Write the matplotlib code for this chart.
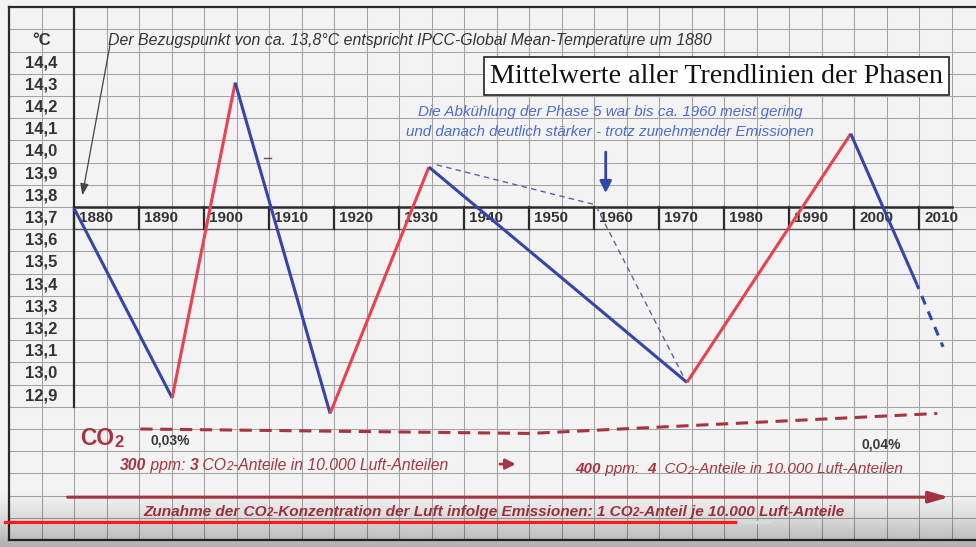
import matplotlib
matplotlib.use("Agg")
import matplotlib.pyplot as plt
import numpy as np
from matplotlib.lines import Line2D

# Mean trend lines of the temperature phases
temp_years = [1880.0, 1895.1, 1904.8, 1919.4, 1934.6, 1974.3, 1999.5, 2009.7]
temp_values = [13.745, 12.89, 14.31, 12.82, 13.93, 12.96, 14.08, 13.40]
# dashed continuation after ~2010
proj_years = [2009.7, 2013.7]
proj_values = [13.40, 13.12]
# thin dashed path of phase 5: mild cooling until 1960, stronger afterwards
phase5_years = [1935.8, 1960.2, 1973.7]
phase5_values = [13.94, 13.76, 12.99]
# CO2 trend drawn below the temperature curve
co2_years = [1890.2, 1950.2, 2012.8]
co2_values = [12.75, 12.73, 12.82]

decades = [1880, 1890, 1900, 1910, 1920, 1930, 1940, 1950, 1960, 1970, 1980, 1990, 2000, 2010]
temp_ticks = [14.4, 14.3, 14.2, 14.1, 14.0, 13.9, 13.8, 13.7, 13.6, 13.5, 13.4, 13.3, 13.2, 13.1, 13.0, 12.9]
temp_labels = ["14,4", "14,3", "14,2", "14,1", "14,0", "13,9", "13,8", "13,7",
               "13,6", "13,5", "13,4", "13,3", "13,2", "13,1", "13,0", "12,9"]

BLUE = "#3447a8"
RED = "#e8414f"
DARK_RED = "#a8343f"
TEXT_BLUE = "#4a6cd2"
FRAME = "#2b2b2b"
GRID = "#a2a2a2"
LABEL = "#333333"
SANS = "Liberation Sans"


def chain_text(ax, x, y, parts, color, size, style="italic"):
    """Write pieces of text one after another; parts = (text, bold, scale)."""
    s, bold, scale = parts[0]
    prev = ax.text(x, y, s, ha="left", va="bottom", color=color, family=SANS,
                   style=style, fontweight="bold" if bold else "normal",
                   fontsize=size * scale, zorder=6)
    for s, bold, scale in parts[1:]:
        prev = ax.annotate(s, xy=(1, 0), xycoords=prev, ha="left", va="bottom",
                           color=color, family=SANS, style=style,
                           fontweight="bold" if bold else "normal",
                           fontsize=size * scale, zorder=6)
    return prev


fig = plt.figure(figsize=(9.76, 5.47), dpi=100, facecolor="#f3f3f3")
ax = fig.add_axes([9 / 976, 7 / 547, 967 / 976, 533 / 547])
ax.set_xlim(1870, 1870 + 967 / 6.5)
ax.set_ylim(12.25, 12.25 + 533 / 222)
ax.set_facecolor("#f3f3f3")
ax.set_xticks([])
ax.set_yticks([])
for side in ["top", "left", "bottom"]:
    ax.spines[side].set_color(FRAME)
    ax.spines[side].set_linewidth(1.6)
ax.spines["right"].set_visible(False)

# paper grid: cells of 5 years x 0.1 degC, values sit in the middle of the rows
for gx in np.arange(1875, 2020, 5):
    ax.axvline(gx, color=GRID, lw=0.75, zorder=0)
for gy in np.arange(12.35, 14.6, 0.1):
    ax.axhline(gy, color=GRID, lw=0.75, zorder=0)

# heavy lines of the table
ax.plot([1880, 1880], [12.85, 14.7], color=FRAME, lw=1.6, zorder=1)
ax.plot([1880, 2015], [13.75, 13.75], color=FRAME, lw=1.8, zorder=1)
ax.plot([1880, 2015], [13.65, 13.65], color="#555555", lw=1.0, zorder=1)
for d in decades:
    ax.plot([d, d], [13.65, 13.75], color=FRAME, lw=1.6, zorder=1)
    ax.text(d + 0.8, 13.70, str(d), ha="left", va="center", fontsize=11,
            fontweight="bold", color=LABEL, family=SANS, zorder=2)

for v, s in zip(temp_ticks, temp_labels):
    ax.text(1875, v, s, ha="center", va="center", fontsize=12,
            fontweight="bold", color=LABEL, family=SANS)
ax.text(1875, 14.5, "°C", ha="center", va="center", fontsize=12,
        fontweight="bold", color=LABEL, family=SANS)

# temperature phases: red when warming, blue when cooling
for i in range(len(temp_years) - 1):
    seg_color = BLUE if temp_values[i + 1] < temp_values[i] else RED
    ax.plot(temp_years[i:i + 2], temp_values[i:i + 2], color=seg_color,
            lw=2.2, solid_capstyle="butt", zorder=4)
ax.plot(proj_years, proj_values, color=BLUE, lw=2.2, ls=(1.5, (3, 2.5)), zorder=4)
ax.plot(phase5_years, phase5_values, color="#5866a0", lw=1.0,
        ls=(0, (4, 3)), zorder=3)
ax.plot([1909.3, 1910.3], [13.97, 13.97], color="#555555", lw=1.0, zorder=3)

# reference point note
ax.annotate("", xy=(1881.2, 13.79), xytext=(1885.6, 14.49),
            arrowprops=dict(arrowstyle="-|>,head_width=0.25,head_length=0.7",
                            color="#444444", lw=0.9))
ax.text(1885.2, 14.5, "Der Bezugspunkt von ca. 13,8°C entspricht "
        "IPCC-Global Mean-Temperature um 1880", ha="left", va="center",
        fontsize=11.4, style="italic", color="#333333", family=SANS)

ax.text(1978.8, 14.34, "Mittelwerte aller Trendlinien der Phasen",
        ha="center", va="center", fontsize=20.2, family="Liberation Serif",
        color="#111111", zorder=6,
        bbox=dict(boxstyle="square,pad=0.22", fc="white", ec="#222222", lw=1.2))

ax.text(1962.5, 14.18, "Die Abkühlung der Phase 5 war bis ca. 1960 meist gering",
        ha="center", va="center", fontsize=10.9, style="italic", color=TEXT_BLUE,
        family=SANS)
ax.text(1962.5, 14.09, "und danach deutlich stärker - trotz zunehmender Emissionen",
        ha="center", va="center", fontsize=10.9, style="italic", color=TEXT_BLUE,
        family=SANS)
ax.annotate("", xy=(1961.8, 13.80), xytext=(1961.8, 14.01),
            arrowprops=dict(arrowstyle="-|>,head_width=0.35,head_length=0.7",
                            color=BLUE, lw=2.0))

# CO2 part
ax.plot(co2_years, co2_values, color=DARK_RED, lw=2.2, ls=(0, (4, 2.5)), zorder=3)
chain_text(ax, 1880.9, 12.655, [("CO", True, 1.0), ("2", True, 0.72)],
           DARK_RED, 16.5, style="normal")
ax.text(1891.7, 12.70, "0,03%", ha="left", va="center", fontsize=10,
        fontweight="bold", color="#3a3a3a", family=SANS)
ax.text(2001.2, 12.68, "0,04%", ha="left", va="center", fontsize=10,
        fontweight="bold", color="#3a3a3a", family=SANS)
chain_text(ax, 1887.0, 12.55,
           [("300", True, 1.0), (" ppm: ", False, 1.0), ("3", True, 1.0),
            (" CO", False, 1.0), ("2", False, 0.75),
            ("-Anteile in 10.000 Luft-Anteilen", False, 1.0)],
           DARK_RED, 11.3)
chain_text(ax, 1957.1, 12.54,
           [("400", True, 1.0), (" ppm:  ", False, 1.0), ("4", True, 1.0),
            ("  CO", False, 1.0), ("2", False, 0.75),
            ("-Anteile in 10.000 Luft-Anteilen", False, 1.0)],
           DARK_RED, 11.0)
ax.annotate("", xy=(1948.4, 12.592), xytext=(1945.1, 12.592),
            arrowprops=dict(arrowstyle="-|>,head_width=0.3,head_length=0.6",
                            color=DARK_RED, lw=2.0))
ax.annotate("", xy=(2015.0, 12.443), xytext=(1878.6, 12.443),
            arrowprops=dict(arrowstyle="-|>,head_width=0.35,head_length=1.2",
                            color=DARK_RED, lw=2.2))
chain_text(ax, 1890.6, 12.345,
           [("Zunahme der CO", True, 1.0), ("2", True, 0.75),
            ("-Konzentration der Luft infolge Emissionen: 1 CO", True, 1.0),
            ("2", True, 0.75), ("-Anteil je 10.000 Luft-Anteile", True, 1.0)],
           DARK_RED, 11.05)

# video player overlay at the bottom of the screenshot
shade = fig.add_axes([0, 0, 1, 60 / 547], zorder=5)
grad = np.zeros((60, 2, 4))
grad[..., 3] = (np.linspace(0.0, 1.0, 60)[:, None] ** 1.5) * 0.28
shade.imshow(grad, aspect="auto", extent=[0, 1, 0, 1], interpolation="bilinear")
shade.axis("off")
fig.add_artist(Line2D([735 / 976, 770 / 976], [25 / 547, 25 / 547],
                      transform=fig.transFigure, color="#d9d9d9", lw=2.3,
                      zorder=6))
fig.add_artist(Line2D([5 / 976, 735 / 976], [25 / 547, 25 / 547],
                      transform=fig.transFigure, color="#ff1a1a", lw=2.3,
                      zorder=6))

fig.savefig("out.png", dpi=100, facecolor=fig.get_facecolor())
